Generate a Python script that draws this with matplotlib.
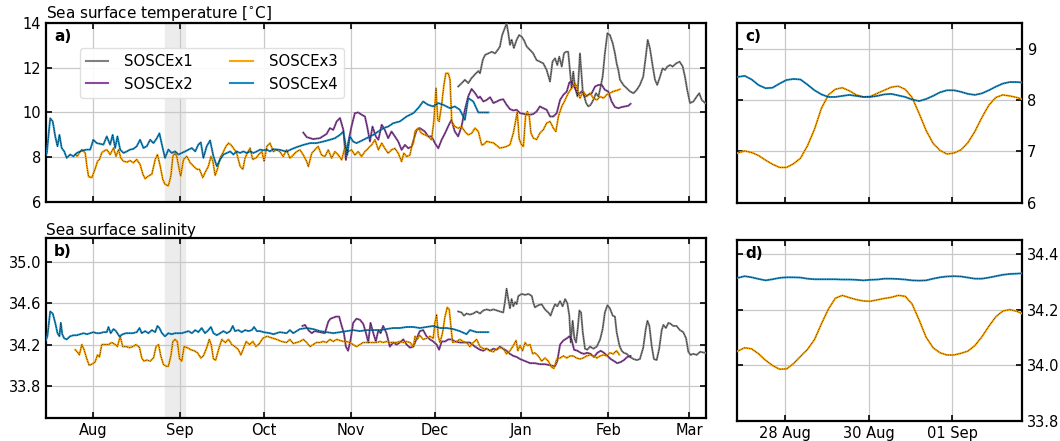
import numpy as np
import matplotlib
matplotlib.use('Agg')
import matplotlib.pyplot as plt
import matplotlib.dates as mdates
from matplotlib.lines import Line2D
from datetime import datetime

# time in days since 1 Aug 2019
t1_day = [130.4, 131.6, 132.8, 134.0, 135.2, 136.4, 137.6, 138.2, 139.2, 140.0,
          141.2, 142.4, 143.6, 144.5, 145.3, 146.1, 147.7, 148.3, 148.9, 149.5,
          150.3, 151.3, 152.2, 153.1, 153.9, 154.9, 156.1, 157.2, 158.4, 159.6,
          160.8, 162.0, 163.2, 164.1, 165.0, 165.8, 166.5, 167.4, 168.2, 168.9,
          169.7, 170.3, 170.9, 171.5, 172.1, 173.0, 173.9, 174.9, 176.1, 176.9,
          177.7, 178.7, 179.6, 180.5, 181.3, 182.0, 182.8, 183.7, 184.6, 185.6,
          186.4, 187.0, 187.6, 188.2, 189.4, 190.6, 191.8, 193.0, 194.2, 195.3,
          196.5, 197.4, 198.1, 198.9, 199.9, 200.7, 201.5, 202.5, 203.4, 204.3,
          205.1, 206.1, 207.0, 208.2, 209.5, 210.6, 211.4, 212.2, 213.2, 214.4,
          215.6, 216.5, 217.4, 218.6]
t1_val = [11.16, 11.30, 11.46, 11.31, 11.54, 11.70, 11.85, 11.75, 12.35, 12.57,
          12.64, 12.71, 12.64, 12.79, 12.94, 13.45, 13.98, 13.55, 13.02, 13.25,
          12.88, 13.25, 13.46, 13.38, 13.23, 12.94, 12.79, 12.64, 12.34, 12.27,
          12.19, 11.90, 11.38, 12.27, 12.42, 12.12, 12.49, 12.05, 12.64, 12.71,
          12.71, 11.90, 11.08, 11.82, 11.16, 10.71, 12.64, 10.94, 10.42, 10.27,
          10.34, 10.56, 10.86, 10.71, 11.16, 11.60, 12.64, 13.54, 13.46, 13.09,
          12.64, 12.19, 11.90, 11.46, 11.23, 11.08, 10.94, 10.86, 11.01, 11.23,
          11.60, 12.49, 13.24, 12.86, 12.05, 11.46, 11.23, 11.60, 11.97, 11.90,
          12.05, 12.12, 12.05, 12.19, 12.27, 12.05, 11.60, 11.01, 10.42, 10.49,
          10.71, 10.86, 10.56, 10.42]

t2_day = [75.1, 76.3, 78.6, 81.0, 83.4, 84.6, 85.8, 87.0, 88.2, 89.4,
          90.3, 91.1, 92.3, 93.5, 94.7, 95.9, 97.1, 97.9, 98.9, 99.8,
          101.0, 101.9, 103.1, 104.2, 105.4, 106.6, 107.8, 109.0, 110.2, 111.4,
          112.6, 113.8, 115.0, 115.6, 116.7, 118.5, 119.7, 120.9, 122.1, 123.3,
          124.5, 125.7, 127.1, 128.0, 129.2, 130.4, 131.6, 132.8, 134.0, 135.2,
          136.4, 137.6,
          138.2, 139.4, 140.6, 141.8, 143.0, 144.2, 145.3, 146.5, 147.7, 148.9,
          150.1, 151.3, 152.5, 153.7, 154.9, 156.1, 157.2, 158.4, 159.6, 160.8,
          162.0, 163.2, 164.4, 165.6, 166.8, 168.0, 169.2, 170.1, 170.9, 172.1,
          173.3, 174.5, 175.7, 176.9, 178.1, 179.3, 180.5, 181.7, 182.8, 184.0,
          185.2, 186.4, 187.6, 188.8, 190.0, 191.2, 192.0]
t2_val = [9.10, 8.90, 8.81, 8.85, 9.04, 9.30, 9.22, 9.60, 9.75, 9.22,
          7.88, 8.63, 9.37, 9.97, 10.00, 9.90, 9.82, 9.37, 8.70, 9.37,
          8.93, 8.78, 9.45, 9.22, 8.85, 9.15, 8.93, 8.70, 8.33, 8.55,
          8.40, 8.48, 8.99, 9.22, 9.30, 9.15, 8.93, 8.93, 8.63, 8.40,
          8.78, 9.07, 9.45, 9.67, 9.15, 8.93, 9.37, 10.12, 10.72, 11.05,
          10.87, 10.64,
          10.71, 10.49, 10.56, 10.68, 10.42, 10.49, 10.56, 10.59, 10.34, 10.15,
          10.09, 10.12, 9.97, 9.94, 9.90, 9.90, 9.93, 10.04, 10.27, 10.19,
          10.12, 9.82, 9.82, 9.97, 10.56, 10.79, 10.94, 11.34, 11.38, 11.08,
          10.79, 10.94, 10.71, 10.79, 10.86, 11.16, 11.23, 11.23, 11.01, 10.94,
          10.49, 10.24, 10.19, 10.24, 10.27, 10.30, 10.39]

t3_day = [-6.4, -5.6, -4.9, -4.0, -2.8, -2.2, -1.6, -0.45, 0.7, 1.6,
          2.3, 3.1, 3.7, 4.9, 6.1, 7.3, 8.2, 9.1, 9.9, 10.9,
          12.1, 13.2, 14.4, 15.6, 16.8, 17.8, 18.6, 19.8, 21.0, 22.2,
          23.0, 24.0, 24.9, 25.7, 26.9, 27.8, 28.5, 29.3, 29.9, 30.9,
          31.3, 32.3, 33.5, 34.7, 35.9, 37.1, 38.0, 39.2, 40.0, 41.2,
          42.1, 42.8, 43.6, 44.4, 45.4, 46.6, 47.5, 48.4, 49.2, 50.1,
          51.3, 52.5, 53.5, 54.3, 55.1, 56.1, 57.0, 58.2, 59.2, 60.3,
          61.1, 62.1, 63.2,
          64.4, 65.6, 66.7, 67.9, 69.1, 70.3, 71.5, 72.7, 73.9, 75.1,
          76.3, 76.9, 78.1, 79.2, 80.4, 81.6, 82.8, 84.0, 85.2, 86.4,
          87.6, 88.8, 90.0, 91.1, 92.3, 93.5, 94.7, 95.9, 97.1, 98.3,
          99.5, 100.7, 101.9, 103.1, 104.2, 105.4, 106.6, 107.8, 109.0, 110.2,
          111.0, 112.0, 113.2, 113.8, 114.4, 115.0, 116.1, 117.3, 118.5, 119.7,
          120.9, 121.7, 122.5, 123.1, 123.6, 124.5, 125.3, 126.0, 126.9, 127.5,
          128.1, 129.2, 130.4, 131.6, 132.8, 134.0, 135.2, 136.4, 137.6, 138.8,
          139.4, 140.6, 141.8, 143.0, 144.2, 145.3, 146.5, 147.7, 148.9, 150.1,
          150.9, 151.5, 152.2, 153.1, 153.7, 154.5, 155.1, 155.8, 156.4, 157.2,
          158.4, 159.6, 160.8, 162.0, 163.2, 164.4, 165.3, 166.2, 167.4, 168.6,
          169.7, 170.9, 172.1, 172.7, 173.9, 175.1, 176.3, 177.5, 178.7, 179.9,
          181.1, 182.3, 183.4, 184.6, 185.8, 187.0, 188.2]
t3_val = [8.12, 8.04, 8.19, 8.34, 8.19, 7.60, 7.13, 7.09, 7.46, 7.82,
          7.90, 8.19, 8.26, 8.34, 8.12, 8.41, 8.04, 8.34, 7.97, 7.82,
          7.78, 7.85, 7.75, 7.90, 7.68, 7.24, 7.04, 7.16, 7.24, 7.90,
          8.12, 7.60, 7.01, 6.79, 6.72, 7.16, 8.04, 8.19, 8.04, 7.38,
          7.16, 7.90, 8.04, 7.75, 7.60, 7.46, 7.46, 7.09, 7.31, 7.60,
          8.04, 7.82, 7.19, 7.46, 7.97, 8.26, 8.49, 8.63, 8.56, 8.41,
          8.19, 7.60, 7.46, 7.97, 8.19, 8.41, 7.90, 7.97, 8.12, 8.26,
          7.82, 8.49, 8.63,
          8.25, 8.33, 8.25, 8.03, 8.33, 7.96, 8.10, 8.25, 8.33, 8.10,
          7.81, 7.58, 8.18, 8.33, 8.48, 8.10, 8.03, 8.33, 7.96, 8.25,
          8.10, 7.88, 8.48, 8.25, 8.33, 8.10, 8.25, 8.03, 8.25, 8.40,
          8.55, 8.78, 8.33, 8.63, 8.40, 8.18, 8.33, 8.40, 8.18, 7.81,
          8.18, 8.03, 8.10, 8.48, 8.63, 9.15, 9.30, 9.07, 9.00, 8.93,
          8.78, 9.60, 11.09, 9.67, 9.60, 10.34, 11.22, 11.75, 11.75, 11.46,
          9.60, 9.37, 9.30, 9.37, 9.15, 9.00, 9.07, 9.30, 9.15, 8.55,
          8.56, 8.71, 8.67, 8.64, 8.52, 8.41, 8.44, 8.48, 8.56, 9.08,
          9.60, 10.04, 8.81, 8.54, 8.48, 9.88, 10.04, 9.82, 9.08, 8.86,
          8.79, 9.08, 9.23, 9.52, 9.60, 9.30, 9.15, 9.82, 10.27, 10.56,
          10.86, 11.08, 11.31, 11.16, 10.64, 10.94, 10.71, 10.86, 10.64, 10.56,
          10.71, 10.64, 10.79, 10.86, 10.94, 10.98, 11.04]

t4_day = [-16.9, -16.5, -15.3, -14.4, -13.5, -12.7, -12.0, -11.2, -10.3, -9.4,
          -8.2, -7.0, -5.8, -4.6, -3.4, -2.2, -1.0, 0.1, 1.3, 2.5,
          3.7, 4.9, 6.1, 7.0, 7.9, 8.7, 9.7, 10.9, 12.1, 13.2,
          14.4, 15.6, 16.8, 18.0, 19.2, 20.4, 21.6, 22.8, 23.7, 24.6,
          25.7, 26.9, 28.1, 29.3, 30.5, 31.7, 32.9, 34.1, 35.3, 36.5,
          37.6, 38.5, 39.4, 40.6, 41.8, 43.0, 44.2, 45.4, 46.6, 47.8,
          49.0, 50.1, 51.3, 52.5, 53.7, 54.9, 56.1, 57.3, 58.5, 59.7,
          60.9, 62.0, 63.2, 64.4, 66.7, 69.1, 70.9, 72.7, 75.1, 77.5,
          79.8, 82.2, 84.6, 86.4, 88.2, 89.4, 90.8, 91.7, 92.9, 94.1,
          95.3, 97.7, 100.1, 101.9, 103.7, 105.4, 107.2, 109.6, 112.0, 114.4,
          116.1, 117.9, 119.7, 121.5, 123.3, 125.1, 127.5, 129.2, 131.0, 132.8,
          134.0, 135.8, 137.6, 139.4, 141.2]
t4_val = [8.10, 8.19, 9.74, 9.60, 8.93, 8.49, 9.00, 8.41, 8.26, 7.97,
          8.12, 8.04, 8.19, 8.26, 8.31, 8.34, 8.34, 8.78, 8.63, 8.60,
          8.56, 8.93, 8.56, 9.00, 8.41, 8.93, 8.34, 8.19, 8.26, 8.34,
          8.37, 8.49, 8.78, 8.41, 8.49, 8.78, 8.63, 8.85, 9.07, 8.56,
          7.97, 8.34, 8.19, 8.26, 8.12, 8.19, 8.26, 8.34, 8.41, 8.26,
          8.56, 8.66, 7.97, 8.49, 8.75, 8.04, 7.60, 7.90, 8.12, 8.19,
          8.26, 8.12, 8.26, 8.19, 8.26, 8.19, 8.26, 8.19, 8.26, 8.34,
          8.31, 8.34, 8.26, 8.36, 8.33, 8.25, 8.36, 8.45, 8.55, 8.63,
          8.63, 8.70, 8.78, 8.85, 9.00, 9.15, 8.10, 8.93, 8.70, 8.63,
          8.70, 8.85, 9.00, 9.15, 9.30, 9.37, 9.52, 9.60, 9.82, 9.97,
          10.19, 10.49, 10.34, 10.27, 10.42, 10.34, 10.19, 10.27, 10.12, 9.67,
          10.64, 10.49, 10.00, 10.00, 10.00]

s1_day = [130.4, 131.6, 132.5, 133.4, 134.6, 135.8, 137.0, 138.2, 139.4, 140.6,
          141.8, 143.0, 144.2, 145.3, 146.5, 147.1, 147.7, 148.3, 148.9, 149.5,
          150.1, 150.7, 151.3, 151.9, 153.1, 154.3, 155.5, 156.7, 157.2, 157.8,
          159.0, 160.2, 161.4, 162.6, 163.4, 164.2, 165.0, 165.8, 166.8, 167.7,
          168.6, 169.4, 170.1, 170.6, 171.3, 171.9, 172.5, 173.1, 173.7, 174.3,
          174.9, 175.7, 176.5, 177.5, 178.7, 179.9, 181.1, 182.0, 182.8, 183.7,
          184.6, 185.6, 186.4, 187.0, 188.0, 188.8, 189.6, 190.6, 191.8, 193.0,
          194.2, 195.3, 196.5, 197.4, 198.0, 198.7, 199.5, 200.3, 201.3, 202.2,
          203.1, 203.7, 204.6, 205.5, 206.3, 207.2, 208.4, 209.6, 210.8, 211.8,
          212.6, 213.4, 214.4, 215.6, 216.8, 218.6]
s1_val = [34.52, 34.51, 34.48, 34.50, 34.49, 34.50, 34.52, 34.50, 34.53, 34.54,
          34.53, 34.54, 34.53, 34.52, 34.51, 34.61, 34.74, 34.64, 34.55, 34.64,
          34.57, 34.61, 34.59, 34.67, 34.69, 34.68, 34.69, 34.67, 34.61, 34.56,
          34.58, 34.59, 34.54, 34.51, 34.48, 34.54, 34.59, 34.57, 34.62, 34.57,
          34.64, 34.60, 34.48, 34.22, 34.43, 34.26, 34.22, 34.35, 34.53, 34.51,
          34.32, 34.16, 34.15, 34.18, 34.16, 34.18, 34.25, 34.35, 34.51, 34.58,
          34.55, 34.48, 34.47, 34.32, 34.19, 34.14, 34.12, 34.11, 34.08, 34.06,
          34.05, 34.06, 34.17, 34.35, 34.43, 34.38, 34.19, 34.06, 34.05, 34.16,
          34.34, 34.39, 34.36, 34.41, 34.40, 34.38, 34.38, 34.34, 34.32, 34.26,
          34.13, 34.10, 34.11, 34.10, 34.13, 34.12]

s2_day = [74.8, 75.7, 76.9, 78.1, 79.2, 81.0, 82.8, 84.0, 84.8, 85.8,
          86.7, 87.9, 88.8, 89.6, 90.3, 91.1, 92.0, 92.9, 94.1, 95.3,
          96.5, 97.5, 98.3, 99.1, 100.1, 101.0, 101.9, 102.7, 103.6, 104.8,
          106.0, 107.2, 108.4, 109.6, 110.8, 112.0, 113.2, 114.4, 115.6, 116.7,
          117.9, 119.1, 120.3, 121.5, 122.7, 123.6, 124.5, 125.7, 126.9, 128.1,
          129.2, 131.0, 132.8, 134.6, 136.4, 138.2,
          139.4, 140.6, 141.8, 143.0, 144.2, 145.3, 146.5, 147.7, 148.9, 150.1,
          151.3, 152.5, 154.3, 156.1, 157.8, 159.6, 161.4, 163.2, 165.0, 165.8,
          166.8, 168.0, 169.2, 170.1, 170.9, 171.8, 173.0, 174.2, 175.3, 176.5,
          177.7, 178.9, 180.1, 181.3, 182.5, 183.7, 184.9, 186.1, 187.2, 188.4,
          189.6, 190.8, 192.0]
s2_val = [34.38, 34.39, 34.34, 34.31, 34.33, 34.32, 34.31, 34.42, 34.45, 34.46,
          34.47, 34.47, 34.38, 34.31, 34.18, 34.14, 34.25, 34.41, 34.45, 34.44,
          34.40, 34.31, 34.22, 34.41, 34.31, 34.23, 34.34, 34.31, 34.38, 34.31,
          34.18, 34.22, 34.20, 34.22, 34.25, 34.20, 34.17, 34.18, 34.26, 34.33,
          34.34, 34.28, 34.25, 34.23, 34.20, 34.15, 34.23, 34.23, 34.25, 34.25,
          34.23, 34.22, 34.22, 34.22, 34.18, 34.15,
          34.14, 34.16, 34.14, 34.16, 34.15, 34.18, 34.16, 34.14, 34.11, 34.09,
          34.08, 34.06, 34.04, 34.02, 34.02, 34.01, 34.01, 34.00, 33.99, 34.04,
          34.20, 34.24, 34.26, 34.28, 34.25, 34.15, 34.14, 34.12, 34.11, 34.12,
          34.11, 34.08, 34.12, 34.14, 34.12, 34.09, 34.06, 34.04, 34.02, 34.03,
          34.05, 34.08, 34.09]

s3_day = [-6.4, -5.6, -4.9, -4.0, -3.2, -2.2, -1.4, -0.45, 0.7, 1.6,
          2.3, 3.1, 4.3, 5.5, 6.7, 7.9, 8.7, 9.7, 10.6, 11.8,
          13.0, 14.2, 15.4, 16.6, 17.4, 18.2, 19.2, 20.4, 21.6, 22.5,
          23.4, 24.2, 25.1, 26.1, 26.9, 27.8, 28.5, 29.3, 30.1, 30.9,
          31.7, 32.5, 33.7, 34.9, 36.1, 37.3, 38.5, 39.4, 40.6, 41.5,
          42.2, 43.0, 43.8, 44.8, 46.0, 47.2, 48.4, 49.6, 50.7, 51.9,
          52.8, 53.7, 54.7, 55.9, 57.1, 58.2, 59.4, 60.6, 62.1, 63.2,
          65.6, 67.3, 69.1, 70.3, 71.5, 72.7, 73.9, 75.1, 76.3, 77.5,
          78.6, 79.8, 81.0, 82.2, 83.4, 84.6, 85.8, 87.0, 88.2, 89.4,
          90.6, 91.7, 92.9, 94.1, 95.3, 96.5, 97.7, 98.9, 100.1, 101.3,
          102.5, 103.6, 104.8, 106.0, 107.2, 108.4, 109.6, 110.8, 111.9, 113.2,
          114.4, 115.0, 115.8, 116.7, 117.9, 119.1, 120.3, 121.5, 122.1, 122.7,
          123.3, 123.9, 124.8, 125.7, 126.5, 127.2, 127.8, 128.4, 129.8, 131.0,
          132.2, 133.4, 134.6, 135.8, 137.0, 138.2,
          139.4, 140.6, 141.8, 143.0, 144.2, 145.3, 146.5, 147.7, 148.9, 150.1,
          151.1, 151.7, 152.5, 153.4, 154.3, 155.1, 156.1, 157.0, 157.8, 159.0,
          160.2, 161.4, 162.6, 163.8, 164.6, 165.6, 166.8, 168.0, 169.2, 170.3,
          171.5, 172.7, 173.9, 175.1, 176.3, 177.5, 178.7, 179.9, 181.1, 182.3,
          183.4, 184.6, 185.8, 187.0, 188.0]
s3_val = [34.15, 34.13, 34.10, 34.20, 34.15, 34.06, 34.00, 34.01, 34.03, 34.10,
          34.08, 34.20, 34.20, 34.20, 34.22, 34.20, 34.18, 34.28, 34.18, 34.18,
          34.17, 34.18, 34.20, 34.17, 34.07, 34.04, 34.05, 34.04, 34.07, 34.18,
          34.20, 34.09, 34.01, 33.99, 33.99, 34.09, 34.23, 34.25, 34.23, 34.06,
          34.04, 34.18, 34.17, 34.15, 34.14, 34.12, 34.07, 34.09, 34.17, 34.25,
          34.20, 34.06, 34.05, 34.15, 34.25, 34.22, 34.25, 34.20, 34.18, 34.15,
          34.10, 34.16, 34.23, 34.20, 34.23, 34.18, 34.21, 34.26, 34.28, 34.27,
          34.25, 34.23, 34.22, 34.25, 34.21, 34.22, 34.23, 34.25, 34.22, 34.18,
          34.20, 34.22, 34.22, 34.23, 34.22, 34.25, 34.23, 34.25, 34.24, 34.23,
          34.23, 34.22, 34.20, 34.18, 34.20, 34.22, 34.22, 34.22, 34.22, 34.22,
          34.23, 34.22, 34.23, 34.22, 34.22, 34.22, 34.23, 34.22, 34.23, 34.22,
          34.18, 34.28, 34.25, 34.29, 34.25, 34.26, 34.28, 34.26, 34.41, 34.49,
          34.28, 34.22, 34.31, 34.47, 34.56, 34.54, 34.38, 34.22, 34.23, 34.25,
          34.23, 34.22, 34.18, 34.22, 34.25, 34.18,
          34.16, 34.16, 34.14, 34.13, 34.16, 34.17, 34.16, 34.11, 34.14, 34.19,
          34.24, 34.14, 34.19, 34.14, 34.22, 34.19, 34.20, 34.11, 34.12, 34.09,
          34.04, 34.07, 34.04, 33.98, 33.97, 34.06, 34.07, 34.09, 34.07, 34.09,
          34.09, 34.07, 34.06, 34.07, 34.09, 34.10, 34.09, 34.07, 34.09, 34.10,
          34.09, 34.12, 34.11, 34.14, 34.10]

s4_day = [-16.9, -16.3, -15.3, -14.4, -13.5, -12.7, -12.0, -11.5, -11.0, -10.3,
          -9.4, -8.2, -7.0, -5.8, -4.6, -3.4, -2.2, -1.0, 0.1, 1.3,
          2.5, 3.7, 4.9, 5.5, 6.3, 7.3, 8.2, 9.4, 10.6, 11.8,
          13.0, 14.2, 15.6, 16.6, 17.4, 18.6, 19.8, 21.0, 22.2, 23.0,
          23.7, 24.6, 25.7, 26.9, 28.1, 29.3, 30.5, 31.7, 32.9, 34.1,
          35.3, 36.5, 37.6, 38.8, 40.0, 41.2, 42.1, 43.0, 44.2, 45.4,
          46.6, 47.8, 49.0, 49.9, 50.7, 51.9, 53.1, 54.3, 55.5, 56.7,
          57.5, 58.5, 59.7, 60.9, 63.2,
          64.4, 66.7, 69.1, 70.3, 71.5, 73.9, 76.3, 78.6, 81.0, 83.4,
          85.8, 88.2, 90.6, 92.9, 95.3, 97.7, 100.1, 102.5, 104.8, 107.2,
          109.6, 112.0, 114.4, 116.7, 119.1, 121.5, 123.9, 126.3, 128.6, 131.0,
          133.4, 134.6, 137.0, 139.4, 141.2]
s4_val = [34.24, 34.28, 34.52, 34.50, 34.41, 34.31, 34.28, 34.41, 34.30, 34.26,
          34.25, 34.28, 34.29, 34.29, 34.30, 34.31, 34.30, 34.31, 34.32, 34.31,
          34.31, 34.32, 34.32, 34.37, 34.31, 34.35, 34.33, 34.28, 34.30, 34.31,
          34.31, 34.31, 34.32, 34.36, 34.31, 34.33, 34.31, 34.34, 34.32, 34.38,
          34.36, 34.31, 34.28, 34.31, 34.30, 34.31, 34.31, 34.31, 34.32, 34.33,
          34.31, 34.34, 34.32, 34.36, 34.31, 34.34, 34.37, 34.31, 34.29, 34.31,
          34.33, 34.31, 34.33, 34.38, 34.33, 34.34, 34.32, 34.34, 34.33, 34.34,
          34.37, 34.33, 34.33, 34.32, 34.31,
          34.30, 34.32, 34.31, 34.34, 34.31, 34.35, 34.36, 34.35, 34.33, 34.32,
          34.31, 34.32, 34.33, 34.34, 34.33, 34.34, 34.34, 34.34, 34.35, 34.36,
          34.36, 34.37, 34.37, 34.36, 34.37, 34.38, 34.36, 34.36, 34.35, 34.33,
          34.30, 34.34, 34.32, 34.32, 34.32]

# zoom window (c, d): hours since 28 Aug 2019 00:00, every 4 h
zoom_hours = np.arange(-27, 138, 4)
zt3 = [6.97, 7.01, 6.98, 6.92, 6.83, 6.75, 6.69, 6.69, 6.76, 6.87,
       7.11, 7.43, 7.84, 8.10, 8.21, 8.24, 8.18, 8.10, 8.06, 8.07,
       8.13, 8.19, 8.25, 8.27, 8.21, 8.05, 7.74, 7.41, 7.16, 7.02,
       6.95, 6.97, 7.03, 7.17, 7.39, 7.66, 7.90, 8.05, 8.10, 8.08,
       8.05, 8.01]
zt4 = [8.45, 8.47, 8.40, 8.29, 8.23, 8.24, 8.32, 8.39, 8.41, 8.40,
       8.30, 8.19, 8.11, 8.06, 8.06, 8.08, 8.10, 8.08, 8.06, 8.06,
       8.08, 8.11, 8.12, 8.09, 8.06, 8.01, 7.98, 8.02, 8.08, 8.15,
       8.19, 8.19, 8.16, 8.12, 8.10, 8.13, 8.19, 8.26, 8.32, 8.35,
       8.35, 8.34]
zs3 = [34.051, 34.063, 34.059, 34.041, 34.018, 33.999, 33.986, 33.987, 34.006, 34.032,
       34.057, 34.092, 34.149, 34.202, 34.241, 34.251, 34.243, 34.236, 34.231, 34.230,
       34.235, 34.240, 34.244, 34.251, 34.248, 34.220, 34.163, 34.101, 34.063, 34.045,
       34.037, 34.037, 34.043, 34.051, 34.071, 34.102, 34.140, 34.174, 34.195, 34.200,
       34.194, 34.183]
zs4 = [34.314, 34.320, 34.316, 34.310, 34.305, 34.309, 34.314, 34.316, 34.316, 34.315,
       34.311, 34.309, 34.309, 34.309, 34.309, 34.308, 34.308, 34.307, 34.305, 34.307,
       34.308, 34.311, 34.311, 34.310, 34.308, 34.305, 34.304, 34.305, 34.311, 34.316,
       34.319, 34.320, 34.319, 34.315, 34.311, 34.311, 34.315, 34.320, 34.325, 34.328,
       34.329, 34.331]

names = ['SOSCEx1', 'SOSCEx2', 'SOSCEx3', 'SOSCEx4']
colors = ['#808080', '#8b4a9c', '#ffa500', '#1a8bc4']

plt.rcParams['font.family'] = 'DejaVu Sans'
plt.rcParams['font.size'] = 10.5

t0 = mdates.date2num(datetime(2019, 8, 1))
z0 = mdates.date2num(datetime(2019, 8, 28))
win = (z0 - 27.4 / 24, z0 + 136.1 / 24)


def draw(ax, day, val, color, base, scale=1.0):
    x = base + np.array(day) / scale
    ax.plot(x, val, color=color, lw=1.4, zorder=3)
    ax.plot(x, val, color='k', lw=0.5, ls=(0, (1, 1.5)), zorder=4)


def style(ax):
    ax.grid(True, color='#c8c8c8', lw=0.9)
    ax.set_axisbelow(True)
    ax.tick_params(direction='in', top=True, right=True, length=4, width=1.2)
    for s in ax.spines.values():
        s.set_linewidth(1.6)


fig = plt.figure(figsize=(10.6, 4.41), dpi=100)
ax_a = fig.add_axes([0.0434, 0.542, 0.6226, 0.406])
ax_b = fig.add_axes([0.0434, 0.0522, 0.6226, 0.408])
ax_c = fig.add_axes([0.6953, 0.540, 0.269, 0.408])
ax_d = fig.add_axes([0.6953, 0.0454, 0.269, 0.4104])

t_days = [t1_day, t2_day, t3_day, t4_day]
t_vals = [t1_val, t2_val, t3_val, t4_val]
s_days = [s1_day, s2_day, s3_day, s4_day]
s_vals = [s1_val, s2_val, s3_val, s4_val]

for ax in [ax_a, ax_b]:
    ax.axvspan(win[0], win[1], color='#ececec', zorder=0)
for d, v, c in zip(t_days, t_vals, colors):
    draw(ax_a, d, v, c, t0)
for d, v, c in zip(s_days, s_vals, colors):
    draw(ax_b, d, v, c, t0)

draw(ax_c, zoom_hours, zt3, colors[2], z0, 24.0)
draw(ax_c, zoom_hours, zt4, colors[3], z0, 24.0)
draw(ax_d, zoom_hours, zs3, colors[2], z0, 24.0)
draw(ax_d, zoom_hours, zs4, colors[3], z0, 24.0)

for ax in [ax_a, ax_b]:
    style(ax)
    ax.set_xlim(t0 - 16.8, t0 + 218.9)
    ax.xaxis.set_major_locator(mdates.MonthLocator())
    ax.xaxis.set_major_formatter(mdates.DateFormatter('%b'))
ax_a.set_xticklabels([])
ax_a.set_ylim(6, 14)
ax_a.set_yticks([6, 8, 10, 12, 14])
ax_b.set_ylim(33.49, 35.23)
ax_b.set_yticks([33.8, 34.2, 34.6, 35.0])
ax_b.yaxis.set_major_formatter(plt.FormatStrFormatter('%.1f'))

for ax in [ax_c, ax_d]:
    style(ax)
    ax.set_xlim(win)
    ax.xaxis.set_major_locator(mdates.DayLocator(bymonthday=[1, 28, 30]))
    ax.xaxis.set_major_formatter(mdates.DateFormatter('%d %b'))
    ax.yaxis.tick_right()
    ax.tick_params(left=True, right=True, labelleft=False, labelright=True)
ax_c.set_xticklabels([])
ax_c.set_ylim(6, 9.5)
ax_c.set_yticks([6, 7, 8, 9])
ax_d.set_ylim(33.8, 34.45)
ax_d.set_yticks([33.8, 34.0, 34.2, 34.4])
ax_d.yaxis.set_major_formatter(plt.FormatStrFormatter('%.1f'))

ax_a.set_title('Sea surface temperature [$^{\\circ}$C]', loc='left', fontsize=11, pad=2)
ax_b.set_title('Sea surface salinity', loc='left', fontsize=11, pad=2)

for ax, lab in zip([ax_a, ax_b, ax_c, ax_d], ['a)', 'b)', 'c)', 'd)']):
    ax.text(0.012 if ax in (ax_a, ax_b) else 0.028, 0.965, lab, transform=ax.transAxes,
            fontweight='bold', fontsize=11, va='top', ha='left', zorder=6)

handles = [Line2D([], [], color=c, lw=1.5) for c in colors]
leg = ax_a.legend(handles, names, ncol=2, loc='upper left', bbox_to_anchor=(0.04, 0.9),
                  fontsize=10.7, handlelength=1.5, handletextpad=1.1, columnspacing=2.5,
                  framealpha=0.9, edgecolor='#dddddd', fancybox=True)
leg.set_zorder(7)

plt.savefig('out.png', dpi=100)
